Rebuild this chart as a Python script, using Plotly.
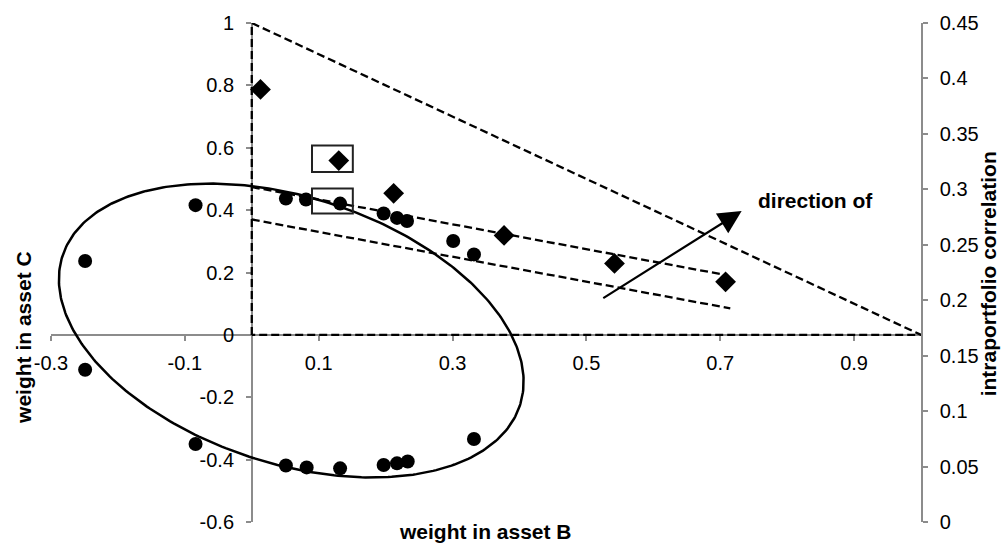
import numpy as np
import plotly.graph_objects as go

# ---- data -------------------------------------------------------------
# portfolio weights (asset B on x, asset C on y) found on the ellipse
b_upper = [-0.249, -0.084, 0.051, 0.081, 0.132, 0.197, 0.217, 0.232, 0.301, 0.332]
c_upper = [0.237, 0.416, 0.437, 0.434, 0.421, 0.389, 0.375, 0.365, 0.301, 0.258]
b_lower = [-0.249, -0.084, 0.051, 0.082, 0.132, 0.197, 0.217, 0.233, 0.332]
c_lower = [-0.112, -0.350, -0.419, -0.425, -0.428, -0.417, -0.412, -0.406, -0.334]

# long-only optimal portfolios
b_opt = [0.013, 0.130, 0.212, 0.377, 0.542, 0.708]
c_opt = [0.787, 0.559, 0.454, 0.319, 0.229, 0.170]

# feasible long-only region (triangle) and iso-correlation lines
tri_b = [0, 0, 1, 0]
tri_c = [0, 1, 0, 0]
iso_hi_b = [0.0, 0.703]
iso_hi_c = [0.474, 0.194]
iso_lo_b = [0.0, 0.715]
iso_lo_c = [0.370, 0.085]

# ellipse: centre and conjugate semi-diameters
ell_center = (0.059, 0.014)
ell_u = (0.3415, -0.2413)
ell_v = (-0.0627, -0.4047)

# highlighted portfolios (boxes): (b0, b1, c0, c1)
boxes = [(0.090, 0.151, 0.522, 0.607), (0.090, 0.151, 0.389, 0.469)]

# arrow (tail -> head)
arrow_tail = (0.523, 0.115)
arrow_head = (0.732, 0.397)

# axes
x_ticks = [-0.3, -0.1, 0.1, 0.3, 0.5, 0.7, 0.9]
x_labels = ["-0.3", "-0.1", "0.1", "0.3", "0.5", "0.7", "0.9"]
y_ticks = [1, 0.8, 0.6, 0.4, 0.2, 0, -0.2, -0.4, -0.6]
y_labels = ["1", "0.8", "0.6", "0.4", "0.2", "0", "-0.2", "-0.4", "-0.6"]
y2_ticks = [0.45, 0.4, 0.35, 0.3, 0.25, 0.2, 0.15, 0.1, 0.05, 0]
y2_labels = ["0.45", "0.4", "0.35", "0.3", "0.25", "0.2", "0.15", "0.1", "0.05", "0"]
x_range = [-0.3, 1.0]
y_range = [-0.6, 1.0]
y2_range = [0, 0.45]

FONT = "Liberation Sans, Arial, sans-serif"
AXIS_GREY = "#8c8c8c"
DASH = "8px,4px"
LINE_STYLE = dict(color="black", width=2.3, dash=DASH)

fig = go.Figure()

# dashed triangle and iso lines
for xs, ys in [(tri_b, tri_c), (iso_hi_b, iso_hi_c), (iso_lo_b, iso_lo_c)]:
    fig.add_trace(go.Scatter(x=xs, y=ys, mode="lines", line=LINE_STYLE,
                             hoverinfo="skip", showlegend=False))

# ellipse
t = np.linspace(0, 2 * np.pi, 361)
ell_x = ell_center[0] + ell_u[0] * np.cos(t) + ell_v[0] * np.sin(t)
ell_y = ell_center[1] + ell_u[1] * np.cos(t) + ell_v[1] * np.sin(t)
fig.add_trace(go.Scatter(x=ell_x, y=ell_y, mode="lines",
                         line=dict(color="black", width=2.5),
                         hoverinfo="skip", showlegend=False))

# circles
fig.add_trace(go.Scatter(x=b_upper + b_lower, y=c_upper + c_lower, mode="markers",
                         marker=dict(symbol="circle", size=14, color="black"),
                         showlegend=False))
# diamonds
fig.add_trace(go.Scatter(x=b_opt, y=c_opt, mode="markers",
                         marker=dict(symbol="diamond", size=16, color="black"),
                         showlegend=False))

# secondary axis carrier (no visible marks)
fig.add_trace(go.Scatter(x=[None], y=[None], yaxis="y2", mode="markers",
                         showlegend=False, hoverinfo="skip"))

for b0, b1, c0, c1 in boxes:
    fig.add_shape(type="rect", xref="x", yref="y", x0=b0, x1=b1, y0=c0, y1=c1,
                  line=dict(color="#222222", width=2))

fig.add_annotation(x=arrow_head[0], y=arrow_head[1], ax=arrow_tail[0], ay=arrow_tail[1],
                   xref="x", yref="y", axref="x", ayref="y", text="",
                   showarrow=True, arrowhead=2, arrowsize=2.1, arrowwidth=2.2,
                   arrowcolor="black", standoff=0)
fig.add_annotation(x=0.754, y=0.432, xref="x", yref="y", text="<b>direction of</b>",
                   showarrow=False, xanchor="left", yanchor="middle",
                   font=dict(family=FONT, size=21, color="black"))

# axis titles
title_font = dict(family=FONT, size=21, color="black")
fig.add_annotation(x=-0.031, y=0.369, xref="paper", yref="paper",
                   text="<b>weight in asset C</b>", textangle=-90, showarrow=False,
                   xanchor="center", yanchor="middle", font=title_font)
fig.add_annotation(x=0.4994, y=-0.02, xref="paper", yref="paper",
                   text="<b>weight in asset B</b>", showarrow=False,
                   xanchor="center", yanchor="middle", font=title_font)
fig.add_annotation(x=1.0785, y=0.497, xref="paper", yref="paper",
                   text="<b>intraportfolio correlation</b>", textangle=-90, showarrow=False,
                   xanchor="center", yanchor="middle", font=title_font)

tick_font = dict(family=FONT, size=20, color="black")
axis_common = dict(showline=True, linecolor=AXIS_GREY, linewidth=1.5,
                   ticks="outside", ticklen=5, tickcolor=AXIS_GREY, tickwidth=1.5,
                   showgrid=False, zeroline=False, tickfont=tick_font,
                   layer="below traces")
fig.update_layout(
    width=1003, height=547,
    margin=dict(l=51, r=82, t=21, b=25),
    paper_bgcolor="white", plot_bgcolor="white",
    xaxis=dict(range=x_range, tickvals=x_ticks, ticktext=x_labels,
               anchor="free", position=(0 - y_range[0]) / (y_range[1] - y_range[0]),
               ticklabelstandoff=5, **axis_common),
    yaxis=dict(range=y_range, tickvals=y_ticks, ticktext=y_labels,
               anchor="free", position=(0 - x_range[0]) / (x_range[1] - x_range[0]),
               ticklabelstandoff=8, **axis_common),
    yaxis2=dict(range=y2_range, tickvals=y2_ticks, ticktext=y2_labels,
                overlaying="y", side="right", anchor="x",
                ticklabelstandoff=8, **axis_common),
)

fig.write_html("out.html")
